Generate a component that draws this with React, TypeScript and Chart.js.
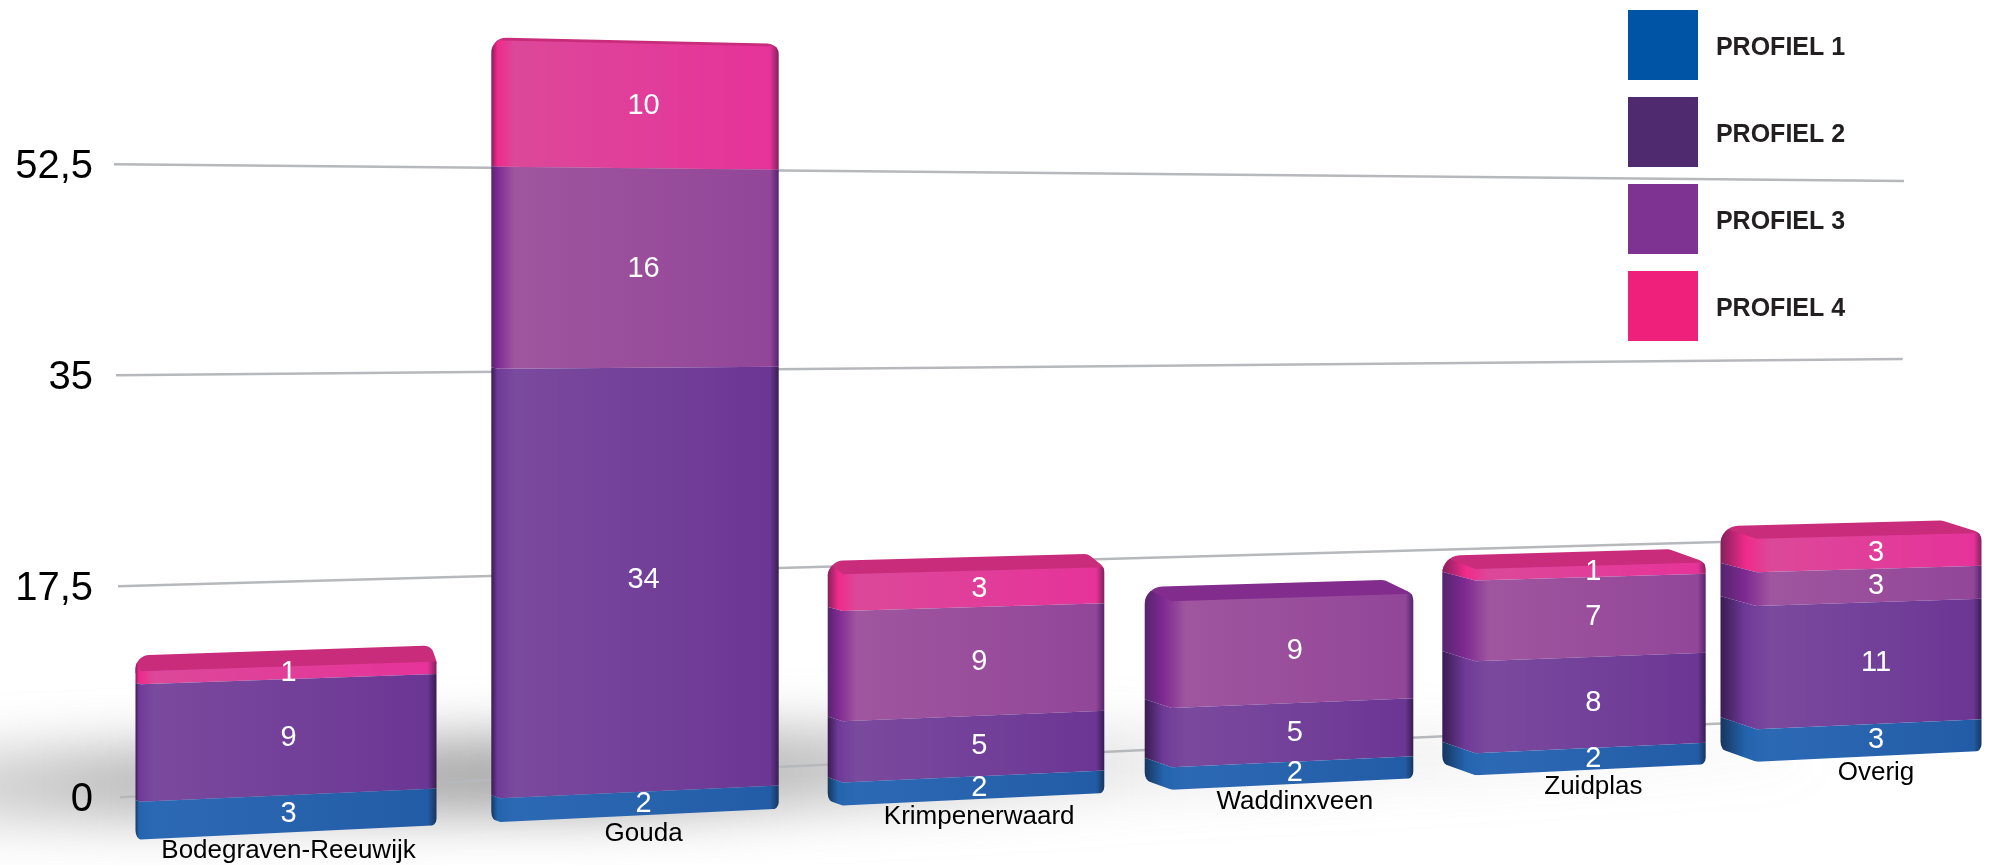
import React, { useEffect, useRef } from "react";
import { Chart, registerables } from "chart.js";

Chart.register(...registerables);

const categories = ["Bodegraven-Reeuwijk", "Gouda", "Krimpenerwaard", "Waddinxveen", "Zuidplas", "Overig"];
const profiel1 = [3, 2, 2, 2, 2, 3];
const profiel2 = [9, 34, 5, 5, 8, 11];
const profiel3 = [0, 16, 9, 9, 7, 3];
const profiel4 = [1, 10, 3, 0, 1, 3];
const seriesNames = ["PROFIEL 1", "PROFIEL 2", "PROFIEL 3", "PROFIEL 4"];
const yTickValues = [0, 17.5, 35, 52.5];

const legendColors = ["#0054a6", "#4f2a6e", "#7e3292", "#ee207b"];
// dark side, saturated edge, lit front (left), front (right), top face
const shades = [
  ["#17365f", "#2464ad", "#2c69b5", "#235ca6", "#235ca6"],
  ["#391c52", "#6f3a98", "#7a4a9e", "#6b3694", "#5c2d80"],
  ["#55246e", "#7f2a92", "#a0559f", "#924698", "#822c8e"],
  ["#85205c", "#ef2a8a", "#dc4899", "#e6339a", "#c82c7b"],
];
const sideWidths = [5, 9, 15, 27, 33, 36];
const textNudge = [0, 2.5, 2.5, -2.5, -3.5, -1];
const FONT = "'Liberation Sans', Arial, sans-serif";

// ---- perspective helpers (pixel -> photographed pixel) ----
const baseAt = (x: number) => 841 - 0.0482 * (x - 135);
const unitAt = (x: number) => 13.04 - 0.00113 * (x - 135);
const centerAt = (u: number) => 286 + 358 * u - 9 * u * u;
const widthAt = (u: number) => 301 - 15 * u + 1.4 * u * u;

function geometry(chart: any, index: number, yPx: (v: number) => number) {
  const xs = chart.scales.x;
  const band = (xs.right - xs.left) / categories.length;
  const u = (xs.getPixelForValue(index) - xs.left) / band - 0.5;
  const c = centerAt(u);
  const w = widthAt(u);
  const xL = c - w / 2;
  const xR = c + w / 2;
  const sw = sideWidths[index];
  const xF = xL + sw;
  const zero = yPx(0);
  const pxPerUnit = Math.abs(yPx(1) - zero);
  const project = (x: number, py: number) => baseAt(x) - ((zero - py) * unitAt(x)) / pxPerUnit;
  const drop = (Y: number) => (Math.max(Y - 40, 0) * 0.018 * sw) / 36;
  const topH = (Y: number) => Math.max((Y - 40) * 0.025, 3);
  const textX = (xF + xR) / 2 + u * 1.6 + textNudge[index];
  return { u, xL, xR, xF, sw, project, drop, topH, textX };
}

function stackTopPx(chart: any, index: number) {
  let top = Infinity;
  chart.data.datasets.forEach((_: any, d: number) => {
    const el = chart.getDatasetMeta(d).data[index];
    const v = chart.data.datasets[d].data[index];
    if (el && v > 0) top = Math.min(top, el.y);
  });
  return top;
}

function roundedPoly(ctx: CanvasRenderingContext2D, pts: number[][]) {
  const n = pts.length;
  const start = [(pts[n - 1][0] + pts[0][0]) / 2, (pts[n - 1][1] + pts[0][1]) / 2];
  ctx.beginPath();
  ctx.moveTo(start[0], start[1]);
  for (let i = 0; i < n; i++) {
    const p = pts[i];
    const q = pts[(i + 1) % n];
    ctx.arcTo(p[0], p[1], q[0], q[1], p[2]);
  }
  ctx.closePath();
}

function drawSegment(this: any, chart: any, dsIndex: number, index: number, ctx: CanvasRenderingContext2D) {
  const value = chart.data.datasets[dsIndex].data[index];
  if (!(value > 0)) return;
  const ys = chart.scales.y;
  const g = geometry(chart, index, (v) => ys.getPixelForValue(v));
  const { xL, xR, xF, sw, project, drop, topH } = g;
  const el = this;
  const topPx = stackTopPx(chart, index);
  const zero = ys.getPixelForValue(0);

  const bF = project(xF, zero);
  const bR = project(xR, zero);
  const tF = project(xF, topPx);
  const tR = project(xR, topPx);
  const hTop = topH(tF);
  const outline = [
    [xL, bF - drop(bF), 12],
    [xF, bF, sw > 20 ? 60 : 6],
    [xR, bR, 8],
    [xR, tR, 10],
    [xR - sw * 1.1, tR - hTop, 10],
    [xL, tF - hTop, Math.min(13 + sw * 0.2, 18)],
  ];

  const segBot = el.base;
  const segTop = el.y;
  const isTop = Math.abs(segTop - topPx) < 0.5;
  const sh = shades[dsIndex];

  ctx.save();
  roundedPoly(ctx, outline);
  ctx.clip();

  if (isTop) {
    ctx.fillStyle = sh[4];
    ctx.beginPath();
    ctx.moveTo(xL - 2, tF + 2);
    ctx.lineTo(xR + 2, tR + 2);
    ctx.lineTo(xR + 2, tR - hTop - 4);
    ctx.lineTo(xL - 2, tF - hTop - 4);
    ctx.closePath();
    ctx.fill();
  }

  const grad = ctx.createLinearGradient(xL, 0, xR, 0);
  const W = xR - xL;
  grad.addColorStop(0, sh[0]);
  grad.addColorStop(Math.min((sw * 0.7) / W, 0.2), sh[1]);
  grad.addColorStop(Math.min((sw + 14) / W, 0.25), sh[2]);
  grad.addColorStop(0.97, sh[3]);
  grad.addColorStop(1, sh[0]);
  ctx.fillStyle = grad;

  const yb = project(xF, segBot);
  const ybR = project(xR, segBot);
  const yt = project(xF, segTop);
  const ytR = project(xR, segTop);
  const extra = segBot >= zero - 0.5 ? 3 : 0;
  ctx.beginPath();
  ctx.moveTo(xL - 1, yb - drop(yb) + extra);
  ctx.lineTo(xF, yb + extra);
  ctx.lineTo(xR + 1, ybR + extra);
  ctx.lineTo(xR + 1, ytR);
  ctx.lineTo(xF, yt);
  ctx.lineTo(xL - 1, yt - (isTop ? hTop : drop(yt)));
  ctx.closePath();
  ctx.fill();
  ctx.restore();
}

const perspectivePlugin = {
  id: "perspective",
  beforeDraw(chart: any) {
    const { ctx, chartArea } = chart;
    const ys = chart.scales.y;
    const xs = chart.scales.x;
    const zero = ys.getPixelForValue(0);
    const L = chartArea.left;
    const span = chartArea.right - chartArea.left;
    const gy = (x: number, py: number) => {
      const t = (x - L) / span;
      return zero - 82 * t - (zero - py) * (1 - 0.156 * t);
    };

    // floor shadow
    ctx.save();
    ctx.filter = "blur(26px)";
    const sg = ctx.createLinearGradient(-60, 0, 1800, 0);
    sg.addColorStop(0, "rgba(130,130,130,0.30)");
    sg.addColorStop(0.1, "rgba(130,130,130,0.55)");
    sg.addColorStop(0.35, "rgba(130,130,130,0.72)");
    sg.addColorStop(0.5, "rgba(130,130,130,0.42)");
    sg.addColorStop(0.65, "rgba(130,130,130,0.16)");
    sg.addColorStop(1, "rgba(130,130,130,0.06)");
    ctx.fillStyle = sg;
    ctx.beginPath();
    ctx.moveTo(-60, 752);
    ctx.lineTo(800, 728);
    ctx.lineTo(1800, 735);
    ctx.lineTo(1800, 762);
    ctx.lineTo(1100, 795);
    ctx.lineTo(700, 812);
    ctx.lineTo(-60, 822);
    ctx.closePath();
    ctx.fill();
    ctx.restore();

    // native grid items, tilted
    const items = ys._computeGridLineItems(chartArea);
    items.forEach((it: any) => {
      const py = it.y1;
      const frac = (zero - py) / (zero - ys.getPixelForValue(52.5));
      it.x1 = L - 6 * frac;
      it.x2 = chartArea.right + 4 * frac;
      it.y1 = gy(it.x1, py);
      it.y2 = gy(it.x2, py);
    });
    ys._gridLineItems = items;

    // native category labels, placed under the fronts of the bars
    xs._computeLabelArea = () => undefined;
    const labels = xs._computeLabelItems(chartArea);
    labels.forEach((it: any, i: number) => {
      const g = geometry(chart, i, (v) => ys.getPixelForValue(v));
      it.options.translation = [g.textX, baseAt(g.textX) + 17.5 - 0.4 * g.u];
      it.options.textBaseline = "middle";
      it.textOffset = 0;
    });
    xs._labelItems = labels;

    // native y tick labels: small optical shift
    const yLabels = ys._computeLabelItems(chartArea);
    yLabels.forEach((it: any) => {
      it.options.translation = [it.options.translation[0], it.options.translation[1] + 3];
    });
    ys._labelItems = yLabels;

    // legend block in the upper right
    const lg = chart.legend;
    const w = lg.right - lg.left;
    lg.left = 1611;
    lg.right = lg.left + w;
    lg.top = -7;
    if (!lg.__wrapped) {
      lg.__wrapped = true;
      const orig = lg._draw;
      lg._draw = function () {
        const c = this.ctx;
        const f = c.fillText;
        c.fillText = function (t: string, x: number, y: number) {
          return f.call(c, t, x - 1.5, y + 3.5);
        };
        orig.call(this);
        c.fillText = f;
      };
    }
  },
  beforeDatasetsDraw(chart: any) {
    chart.data.datasets.forEach((_: any, d: number) => {
      chart.getDatasetMeta(d).data.forEach((el: any, i: number) => {
        el.draw = function (ctx: CanvasRenderingContext2D) {
          drawSegment.call(el, chart, d, i, ctx);
        };
      });
    });
  },
  afterDatasetsDraw(chart: any) {
    const { ctx } = chart;
    const ys = chart.scales.y;
    ctx.save();
    ctx.fillStyle = "#ffffff";
    ctx.font = `29px ${FONT}`;
    ctx.textAlign = "center";
    ctx.textBaseline = "middle";
    chart.data.datasets.forEach((ds: any, d: number) => {
      chart.getDatasetMeta(d).data.forEach((el: any, i: number) => {
        const v = ds.data[i];
        if (!(v > 0)) return;
        const g = geometry(chart, i, (n) => ys.getPixelForValue(n));
        ctx.fillText(String(v), g.textX, g.project(g.textX, (el.base + el.y) / 2) + 0.5);
      });
    });
    ctx.restore();
  },
};

export default function App() {
  const ref = useRef<HTMLCanvasElement>(null);
  useEffect(() => {
    document.body.style.margin = "0";
    document.body.style.background = "#ffffff";
    const allSeries = [profiel1, profiel2, profiel3, profiel4];
    const chart = new Chart(ref.current as HTMLCanvasElement, {
      type: "bar",
      data: {
        labels: categories,
        datasets: allSeries.map((data, i) => ({
          label: seriesNames[i],
          data,
          backgroundColor: legendColors[i],
          borderWidth: 0,
          barPercentage: 1,
          categoryPercentage: 1,
          clip: false,
        })) as any,
      },
      options: {
        animation: false,
        responsive: false,
        devicePixelRatio: 1,
        layout: { padding: { left: 0, right: 90, top: 13, bottom: 0 } },
        plugins: {
          tooltip: { enabled: false },
          legend: {
            position: "chartArea",
            align: "start",
            labels: {
              boxWidth: 70,
              boxHeight: 70,
              padding: 17,
              color: "#231f20",
              font: { family: FONT, size: 25, weight: "bold" },
              generateLabels: (c: any) =>
                c.data.datasets.map((ds: any, i: number) => ({
                  text: " " + ds.label,
                  fillStyle: ds.backgroundColor,
                  strokeStyle: ds.backgroundColor,
                  lineWidth: 0,
                  fontColor: "#231f20",
                  datasetIndex: i,
                })),
            },
          },
        } as any,
        scales: {
          x: {
            stacked: true,
            grid: { display: false },
            border: { display: false },
            afterFit: (s: any) => {
              s.height = 68;
              s.paddingLeft = 0;
              s.paddingRight = 0;
            },
            ticks: {
              autoSkip: false,
              maxRotation: 0,
              minRotation: 0,
              color: "#000000",
              font: { family: FONT, size: 26 },
            },
          },
          y: {
            stacked: true,
            min: 0,
            max: 65,
            border: { display: false },
            grid: { color: "#b6b8bb", lineWidth: 2.5, drawTicks: false },
            afterFit: (s: any) => {
              s.width = 120;
              s.paddingTop = 0;
              s.paddingBottom = 0;
            },
            afterBuildTicks: (s: any) => {
              s.ticks = yTickValues.map((value) => ({ value }));
            },
            ticks: {
              padding: 27,
              color: "#000000",
              font: { family: FONT, size: 40 },
              callback: (v: any) => String(v).replace(".", ","),
            },
          },
        },
      },
      plugins: [perspectivePlugin as any],
    });
    return () => chart.destroy();
  }, []);
  return (
    <div style={{ position: "absolute", left: 0, top: 0, width: 1990, height: 865 }}>
      <canvas ref={ref} width={1990} height={865} style={{ display: "block" }} />
    </div>
  );
}
